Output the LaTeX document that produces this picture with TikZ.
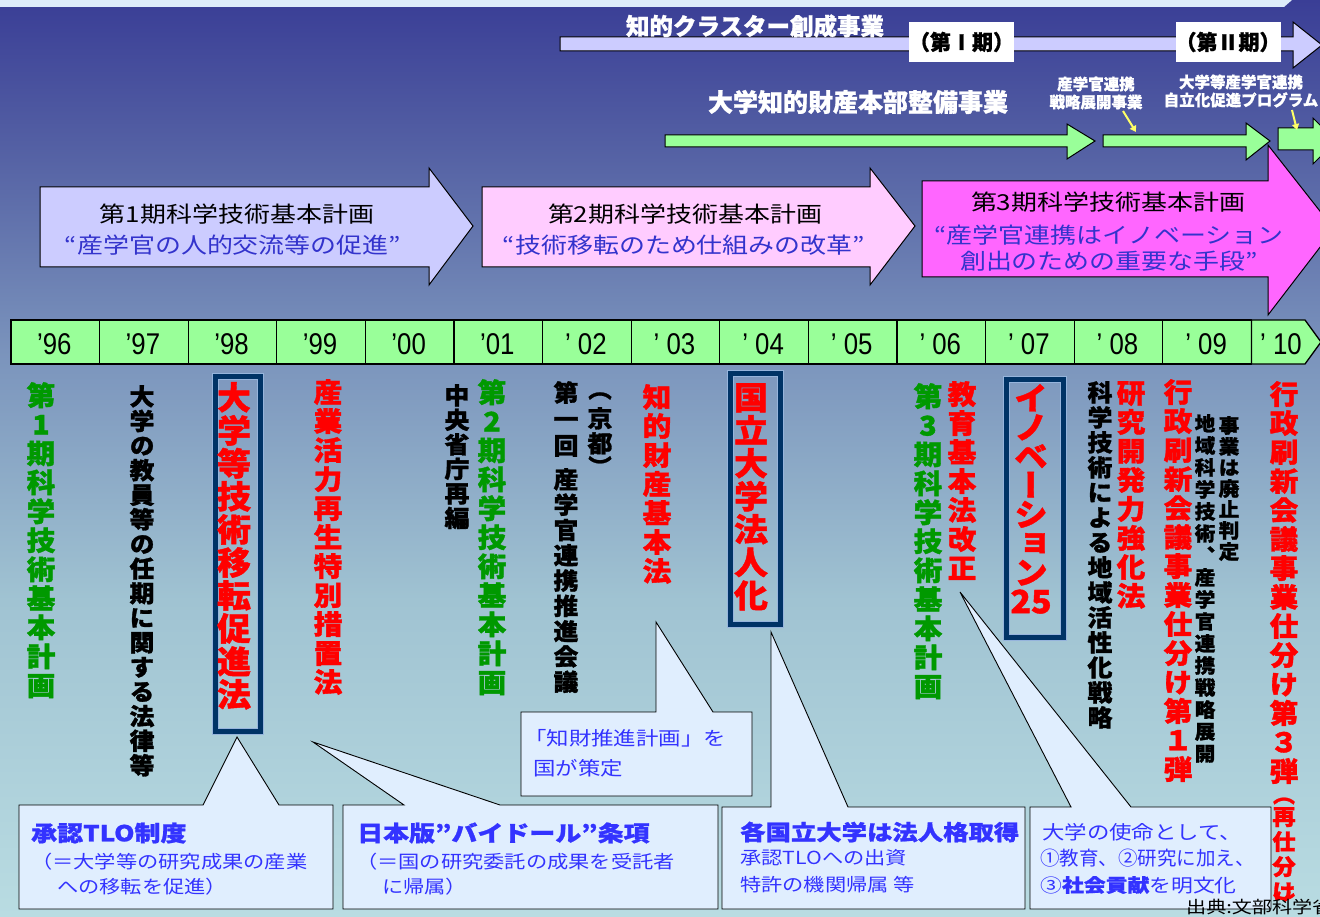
\documentclass[tikz,border=0pt]{standalone}
\usepackage{fontspec}
\usepackage{graphicx}
\setmainfont{Noto Sans CJK JP}[BoldFeatures={FakeBold=1}]
\newfontfamily\jpw{Noto Sans CJK JP}[FakeStretch=1.18, BoldFeatures={FakeBold=1}]
\newfontfamily\vjp{Noto Sans CJK JP}[RawFeature=+vert, FakeStretch=1.06, BoldFeatures={FakeBold=1.3}]
\newfontfamily\latn{Liberation Sans}
\usetikzlibrary{arrows.meta}
\definecolor{bgA}{RGB}{58,62,150}
\definecolor{bgA2}{RGB}{86,99,165}
\definecolor{bgB}{RGB}{122,147,188}
\definecolor{bgC}{RGB}{160,195,210}
\definecolor{bgD}{RGB}{185,220,226}
\definecolor{stripc}{RGB}{222,236,250}
\definecolor{lav}{RGB}{204,204,255}
\definecolor{pinkA}{RGB}{255,204,255}
\definecolor{magA}{RGB}{255,102,255}
\definecolor{grA}{RGB}{153,255,153}
\definecolor{jred}{RGB}{255,0,0}
\definecolor{jgreen}{RGB}{0,153,0}
\definecolor{jnavy}{RGB}{0,51,102}
\definecolor{frameL}{RGB}{150,180,220}
\definecolor{cfill}{RGB}{224,238,254}
\definecolor{cblue}{RGB}{51,51,255}
\definecolor{pblue}{RGB}{51,51,204}
\definecolor{yel}{RGB}{255,255,102}
\makeatletter
\newcommand\VT[2]{\vbox{\baselineskip=#1\relax\lineskiplimit=-\maxdimen\lineskip=0pt\relax\@tfor\vt@c:=#2\do{\hbox to 0pt{\hss\vt@c\hss}}}}
\makeatother
\newcommand\dframe[4]{%
  \draw[jnavy, line width=5pt] (#1+3.5,#2+3.5) rectangle (#3-3.5,#4-3.5);
  \draw[frameL, line width=0.8pt] (#1+0.5,#2+0.5) rectangle (#3-0.5,#4-0.5);
  \draw[frameL, line width=0.8pt] (#1+6.5,#2+6.5) rectangle (#3-6.5,#4-6.5);}
\tikzset{
  vt/.style={inner sep=0pt, anchor=north},
  vtR/.style={vt, text=jred},
  vtG/.style={vt, text=jgreen},
  vtK/.style={vt, text=black},
  fz/.style={font=\vjp\bfseries\fontsize{#1}{#1}\selectfont},
  parrow/.style={draw=black, line width=1pt},
  ptk/.style={inner sep=0pt, text=black, font=\jpw\fontsize{22}{22}\selectfont},
  ptb/.style={inner sep=0pt, text=pblue, font=\jpw\fontsize{22}{22}\selectfont},
  wbold/.style={inner sep=0pt, text=white, font=\bfseries\fontsize{#1}{#1}\selectfont},
  wsmall/.style={inner sep=0pt, text=white, align=center, font=\bfseries\fontsize{15.5}{18}\selectfont},
  phase/.style={fill=white, inner sep=0pt, minimum height=40pt, font=\bfseries\fontsize{21}{21}\selectfont},
  ybar/.style={fill=grA, draw=black, line width=1.3pt},
  ytxt/.style={inner sep=0pt, font=\latn\fontsize{30}{30}\selectfont},
  yarrow/.style={draw=yel, line width=2pt, -{Triangle[length=6pt,width=7pt]}},
  callout/.style={fill=cfill, draw=black, line width=0.9pt},
  cbold/.style={anchor=west, inner sep=0pt, text=cblue, font=\jpw\bfseries\fontsize{#1}{#1}\selectfont},
  cnorm/.style={anchor=west, inner sep=0pt, text=cblue, font=\jpw\fontsize{#1}{#1}\selectfont},
  cplain/.style={anchor=west, inner sep=0pt, text=cblue, font=\fontsize{#1}{#1}\selectfont},
  paren/.style={inner sep=0pt, font=\bfseries\fontsize{#1}{#1}\selectfont},
}
\begin{document}
\begin{tikzpicture}[x=1pt, y=-1pt, line join=miter]
\useasboundingbox (0,0) rectangle (1320,917);
% background
\shade[top color=bgA, bottom color=bgA2] (0,0) rectangle (1320,160.5);
\shade[top color=bgA2, bottom color=bgB] (0,160) rectangle (1320,350.5);
\shade[top color=bgB, bottom color=bgC] (0,350) rectangle (1320,600.5);
\shade[top color=bgC, bottom color=bgD] (0,600) rectangle (1320,917);
\fill[stripc] (0,0) -- (1292,0) -- (1284,7) -- (0,7) -- cycle;

% cluster arrow
\draw[parrow, fill=lav] (560,37) -- (1293,37) -- (1293,22) -- (1322,45) -- (1293,68) -- (1293,51) -- (560,51) -- cycle;
\node[wbold=23.5] (kc) at (755,26) {知的クラスター創成事業};
\node[phase, minimum width=93pt] (ph1) at (961.5,42) {（第Ⅰ期）};
\node[phase, minimum width=90pt] (ph2) at (1228,42) {（第Ⅱ期）};

% IP headquarters arrows
\draw[parrow, fill=grA] (665,135) -- (1067,135) -- (1067,124) -- (1095,141) -- (1067,159) -- (1067,147) -- (665,147) -- cycle;
\draw[parrow, fill=grA] (1103,135) -- (1246,135) -- (1246,123) -- (1270,141) -- (1246,160) -- (1246,147) -- (1103,147) -- cycle;
\draw[parrow, fill=grA] (1278,128) -- (1313,128) -- (1313,118) -- (1336,141) -- (1313,164) -- (1313,150) -- (1278,150) -- cycle;
\node[wbold=25] (ip) at (858,102) {大学知的財産本部整備事業};
\node[wsmall] (s1) at (1096,93) {産学官連携\\戦略展開事業};
\node[wsmall] (s2) at (1241,91) {大学等産学官連携\\自立化促進プログラム};
\coordinate (ya1) at (1123,111);
\coordinate (yb1) at (1136,132);
\coordinate (ya2) at (1292,110);
\coordinate (yb2) at (1297,130);
\draw[yarrow] (ya1) -- (yb1);
\draw[yarrow] (ya2) -- (yb2);

% plan arrows
\draw[parrow, fill=lav] (40,187) -- (429,187) -- (429,168) -- (473,226) -- (429,285) -- (429,267) -- (40,267) -- cycle;
\draw[parrow, fill=pinkA] (482,187) -- (870,187) -- (870,168) -- (915,226) -- (870,285) -- (870,267) -- (482,267) -- cycle;
\draw[parrow, fill=magA] (922,181) -- (1268,181) -- (1268,145) -- (1334,229) -- (1268,315) -- (1268,277) -- (922,277) -- cycle;
\node[ptk] (t1a) at (237,214) {第1期科学技術基本計画};
\node[ptb] (t1b) at (233,245) {“産学官の人的交流等の促進”};
\node[ptk] (t2a) at (685,214) {第2期科学技術基本計画};
\node[ptb] (t2b) at (684,245) {“技術移転のため仕組みの改革”};
\node[ptk] (t3a) at (1108,202) {第3期科学技術基本計画};
\node[ptb] (t3b) at (1109,235) {“産学官連携はイノベーション};
\node[ptb] (t3c) at (1109,261) {創出のための重要な手段”};

% year bar
\foreach \k/\t in {0/’96,1/’97,2/’98,3/’99,4/’00,5/’01,6/’ 02,7/’ 03,8/’ 04,9/’ 05,10/’ 06,11/’ 07,12/’ 08,13/’ 09}{
  \draw[ybar] ({11+88.6*\k},320) rectangle ({11+88.6*(\k+1)},364);
  \node[ytxt] (y\k) at ({54.3+88.6*\k},344) {\scalebox{0.86}[1]{\t}};
}
\draw[ybar] (1251.4,320) -- (1305,320) -- (1321,342) -- (1305,364) -- (1251.4,364) -- cycle;
\node[ytxt] (y14) at (1281,344) {\scalebox{0.86}[1]{’ 10}};

% framed items
\dframe{212}{373}{264}{735}
\dframe{727}{370}{784}{628}
\dframe{1003}{376}{1067}{641}

% vertical texts
\node[vtG, fz=27] (v1) at (41,382) {\VT{29pt}{第1期科学技術基本計画}};
\node[vtK, fz=23.5] (v2) at (142,385) {\VT{24.6pt}{大学の教員等の任期に関する法律等}};
\node[vtR, fz=32] (v3) at (234,382) {\VT{33pt}{大学等技術移転促進法}};
\node[vtR, fz=27] (v4) at (328,379) {\VT{29pt}{産業活力再生特別措置法}};
\node[vtK, fz=23.5] (v5) at (457,384) {\VT{24.5pt}{中央省庁再編}};
\node[vtG, fz=27] (v6) at (492,379) {\VT{29pt}{第2期科学技術基本計画}};
\node[vtK, fz=23.5] (v7a) at (566,381) {\VT{26.5pt}{第一回}};
\node[vtK, fz=23.5] (v7b) at (566,468) {\VT{25.3pt}{産学官連携推進会議}};
\node[vtK, fz=23.5] (v8) at (600,407) {\VT{25pt}{京都}};
\node[paren=23.5] (v8p1) at (600,396) {︵};
\node[paren=23.5] (v8p2) at (600,466) {︶};
\node[vtR, fz=27] (v9) at (657,384) {\VT{29pt}{知的財産基本法}};
\node[vtR, fz=32] (v10) at (751,383) {\VT{33pt}{国立大学法人化}};
\node[vtG, fz=27] (v11) at (928,383) {\VT{29pt}{第3期科学技術基本計画}};
\node[vtR, fz=27] (v12) at (962,381) {\VT{29pt}{教育基本法改正}};
\node[vtR, fz=32] (v13) at (1031,384) {\VT{29pt}{イノベーション{25}}};
\node[vtK, fz=23.5] (v14) at (1100,381) {\VT{25pt}{科学技術による地域活性化戦略}};
\node[vtR, fz=27] (v15) at (1131,381) {\VT{29pt}{研究開発力強化法}};
\node[vtR, fz=27] (v16) at (1178,379) {\VT{29pt}{行政刷新会議事業仕分け第１弾}};
\node[vtK, fz=19.5] (v17) at (1205,414) {\VT{22pt}{地域科学技術、産学官連携戦略展開}};
\node[vtK, fz=19.5] (v18) at (1229,416) {\VT{21pt}{事業は廃止判定}};
\node[vtR, fz=27] (v19) at (1284,381) {\VT{29pt}{行政刷新会議事業仕分け第３弾}};
\node[paren=22, text=jred] (v19p1) at (1284,801) {︵};
\node[vtR, fz=22] (v19b) at (1284,807) {\VT{25pt}{再仕分け}};

% callouts
\path[callout] (19,805) -- (203,805) -- (237,737) -- (279,805) -- (333,805) -- (333,909) -- (19,909) -- cycle;
\path[callout] (343,805) -- (404,805) -- (313,742) -- (500,805) -- (718,805) -- (718,909) -- (343,909) -- cycle;
\path[callout] (521,712) -- (656,712) -- (656,622) -- (713,712) -- (752,712) -- (752,796) -- (521,796) -- cycle;
\path[callout] (722,807) -- (771,807) -- (771,632) -- (848,807) -- (1025,807) -- (1025,909) -- (722,909) -- cycle;
\path[callout] (1030,807) -- (1071,807) -- (960,592) -- (1131,807) -- (1271,807) -- (1271,909) -- (1030,909) -- cycle;

\node[cbold=22] (a1) at (31,833) {承認TLO制度};
\node[cnorm=18] (a2) at (31,862) {（＝大学等の研究成果の産業};
\node[cnorm=18] (a3) at (57,887) {への移転を促進）};
\node[cbold=22] (b1) at (357,833) {日本版”バイドール”条項};
\node[cnorm=18] (b2) at (356,862) {（＝国の研究委託の成果を受託者};
\node[cnorm=18] (b3) at (382,887) {に帰属）};
\node[cnorm=19] (c1) at (524,738) {「知財推進計画」を};
\node[cnorm=19] (c2) at (533,768) {国が策定};
\node[cbold=21.5] (d1) at (740,832) {各国立大学は法人格取得};
\node[cnorm=18] (d2) at (740,858) {承認TLOへの出資};
\node[cnorm=18] (d3) at (740,885) {特許の機関帰属 等};
\node[cnorm=19] (e1) at (1042,832) {大学の使命として、};
\node[cplain=19.5] (e2) at (1040,858) {①教育、②研究に加え、};
\node[cnorm=18.5] (e3) at (1040,885) {③{\bfseries 社会貢献}を明文化};

\node[paren=22, text=jred, anchor=north] (v19p2) at (1284,893) {︶};
\node[anchor=north west, inner sep=0pt, font=\jpw\fontsize{17}{17}\selectfont] (src) at (1186,899) {出典:文部科学省};
\end{tikzpicture}
\end{document}
